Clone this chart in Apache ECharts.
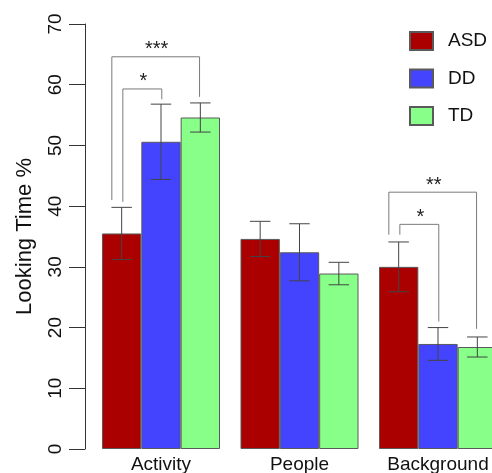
<!DOCTYPE html>
<html><head><meta charset="utf-8">
<script src="https://cdn.jsdelivr.net/npm/echarts@6/dist/echarts.min.js"></script>
<style>html,body{margin:0;padding:0;background:#fff}#c{width:492px;height:473px}</style>
</head><body><div id="c"></div>
<script>
const categories = ['Activity', 'People', 'Background'];
const groups = ['ASD', 'DD', 'TD'];
const asdMean = [35.5, 34.6, 30.0];
const ddMean = [50.6, 32.4, 17.3];
const tdMean = [54.6, 28.9, 16.8];
const asdErr = [4.3, 2.9, 4.1];
const ddErr = [6.2, 4.7, 2.7];
const tdErr = [2.4, 1.85, 1.65];
const yTicks = [0, 10, 20, 30, 40, 50, 60, 70];
// significance brackets
const bracketCat = [0, 0, 2, 2];
const bracketFrom = [0, 0, 0, 0];
const bracketTo = [1, 2, 1, 2];
const bracketFromFoot = [40.7, 41.0, 35.3, 35.3];
const bracketToFoot = [57.6, 58.0, 21.0, 19.8];
const bracketTop = [59.3, 64.6, 37.0, 42.3];
const bracketLabel = ['*', '***', '*', '**'];

const FONT = "'Liberation Sans', Arial, Helvetica, sans-serif";
const colors = ['#AA0000', '#4444FF', '#88FF88'];
const means = [asdMean, ddMean, tdMean];
const errs = [asdErr, ddErr, tdErr];
const CAT_GAP = 0.148;

function slotX(api, cat, slot) {
  const c = api.coord([cat, 0]);
  const bw = api.size([1, 0])[0];
  const barW = bw * (1 - CAT_GAP) / 3;
  return { x: c[0] + (slot - 1) * barW, barW: barW };
}

const series = [];
groups.forEach((g, k) => {
  series.push({
    name: g, type: 'bar', data: means[k],
    barGap: '0%', barCategoryGap: (CAT_GAP * 100) + '%',
    itemStyle: { color: colors[k], borderColor: '#5a5a5a', borderWidth: 1 },
    emphasis: { disabled: true }, animation: false
  });
});
groups.forEach((g, k) => {
  series.push({
    type: 'custom', name: g + ' err', z: 5, animation: false,
    data: categories.map((c, i) => [i, means[k][i] - errs[k][i], means[k][i] + errs[k][i]]),
    renderItem: function (params, api) {
      const cat = api.value(0);
      const s = slotX(api, cat, k);
      const lo = api.coord([cat, api.value(1)])[1];
      const hi = api.coord([cat, api.value(2)])[1];
      const hw = s.barW * 0.26;
      const st = { stroke: '#444', lineWidth: 1, fill: null };
      return { type: 'group', children: [
        { type: 'line', shape: { x1: s.x, y1: lo, x2: s.x, y2: hi }, style: st },
        { type: 'line', shape: { x1: s.x - hw, y1: lo, x2: s.x + hw, y2: lo }, style: st },
        { type: 'line', shape: { x1: s.x - hw, y1: hi, x2: s.x + hw, y2: hi }, style: st }
      ]};
    }
  });
});
series.push({
  type: 'custom', name: 'brackets', z: 6, animation: false,
  data: bracketCat.map((c, i) => [c, bracketFrom[i], bracketTo[i], bracketFromFoot[i], bracketToFoot[i], bracketTop[i], i]),
  renderItem: function (params, api) {
    const cat = api.value(0);
    const i = api.value(6);
    const a = slotX(api, cat, api.value(1));
    const b = slotX(api, cat, api.value(2));
    // outer bracket (higher than another in same category) shifts its left leg outward
    let outer = bracketCat.some((c, j) => j !== i && c === cat && bracketTop[j] < bracketTop[i]);
    const xl = a.x + (outer ? -0.25 * a.barW : 0.03 * a.barW);
    const xr = b.x + (outer ? -0.02 * b.barW : 0.02 * b.barW);
    const yl = api.coord([cat, api.value(3)])[1];
    const yr = api.coord([cat, api.value(4)])[1];
    const yt = api.coord([cat, api.value(5)])[1];
    const st = { stroke: '#7a7a7a', lineWidth: 1, fill: null };
    return { type: 'group', children: [
      { type: 'polyline', shape: { points: [[xl, yl], [xl, yt], [xr, yt], [xr, yr]] }, style: st },
      { type: 'text', x: (xl + xr) / 2 + 1, y: yt - 7,
        style: { text: bracketLabel[i], font: '20px ' + FONT, fill: '#222', align: 'center', verticalAlign: 'middle' } }
    ]};
  }
});

const chart = echarts.init(document.getElementById('c'), null, { renderer: 'canvas' });
chart.setOption({
  backgroundColor: '#fff',
  animation: false,
  textStyle: { fontFamily: FONT },
  legend: {
    data: groups, orient: 'vertical', left: 404, top: 26,
    itemWidth: 23, itemHeight: 18, itemGap: 17.5, icon: 'rect',
    selectedMode: false,
    textStyle: { fontSize: 19, lineHeight: 18, color: '#111', fontFamily: FONT, padding: [0, 0, 0, 10] }
  },
  grid: { left: 91.75, right: -15.25, top: 24, bottom: 24, containLabel: false, outerBoundsMode: 'none' },
  xAxis: {
    type: 'category', data: categories,
    axisLine: { show: false }, axisTick: { show: false }, splitLine: { show: false },
    axisLabel: { fontSize: 19, color: '#111', margin: 6, fontFamily: FONT, interval: 0, hideOverlap: false }
  },
  yAxis: {
    type: 'value', min: yTicks[0], max: yTicks[yTicks.length - 1], interval: 10, offset: 6.75,
    name: 'Looking Time %', nameLocation: 'middle', nameGap: 49,
    nameTextStyle: { fontSize: 22, color: '#111', fontFamily: FONT },
    axisLine: { show: true, lineStyle: { color: '#333', width: 1 } },
    axisTick: { show: true, length: 16, lineStyle: { color: '#333', width: 1 } },
    splitLine: { show: false },
    axisLabel: { rotate: 90, fontSize: 19, color: '#111', margin: 20, fontFamily: FONT,
      formatter: v => yTicks.includes(v) ? String(v) : '' }
  },
  series: series
});
</script>
</body></html>
